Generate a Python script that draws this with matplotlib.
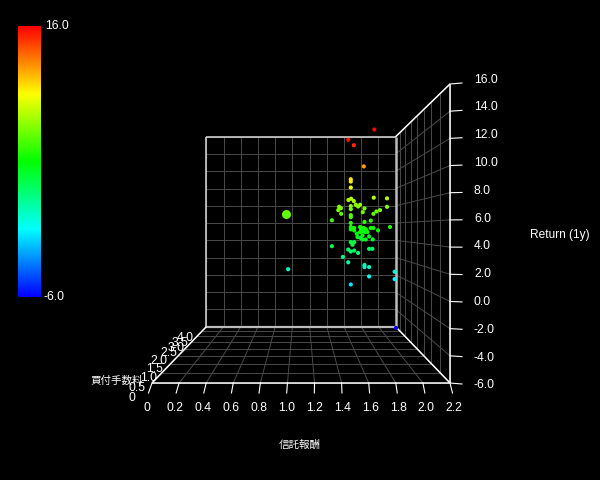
import numpy as np
import matplotlib
matplotlib.use("Agg")
import matplotlib.pyplot as plt
from matplotlib.colors import LinearSegmentedColormap

plt.rcParams['font.family'] = ['Liberation Sans', 'DejaVu Sans']

# fund data: trust fee, purchase fee, 1y return
fee = [1.89, 1.649, 1.714, 1.83, 1.679, 1.679, 1.679, 1.946, 2.10, 1.652, 1.683, 1.714,
       1.544, 1.533, 1.564, 1.679, 1.679, 1.737, 1.764, 1.787, 1.838, 1.818, 2.10, 2.019,
       1.977, 1.942, 1.567, 1.679, 1.679, 1.459, 1.838, 1.911, 1.679, 2.135, 1.996, 1.834,
       1.815, 1.853, 1.826, 1.679, 1.679, 1.718, 1.718, 1.787, 1.911, 1.942, 1.787, 1.872,
       1.749, 1.815, 1.892, 1.853, 1.815, 1.757, 1.795, 1.934, 1.679, 1.718, 1.699, 1.459,
       1.649, 1.679, 1.718, 1.764, 1.892, 1.93, 1.587, 1.649, 1.838, 1.838, 1.892, 1.892,
       1.679, 2.189, 2.189, 0.95, 2.19,
       1.82, 1.84, 1.83, 1.85, 1.80, 1.86, 1.81]
ret = [16.0, 15.65, 15.02, 12.56, 11.08, 10.81, 10.11, 8.94, 8.86, 8.67, 8.82, 8.55,
       7.88, 7.5, 7.73, 7.96, 7.61, 8.12, 7.92, 8.12, 7.69, 7.26, 7.88, 7.5,
       7.34, 7.07, 7.07, 6.91, 6.68, 6.32, 6.13, 6.28, 6.01, 5.54, 5.15, 5.15,
       5.35, 4.96, 5.43, 5.54, 5.27, 5.43, 5.15, 5.54, 5.43, 5.43, 4.96, 4.96,
       4.76, 4.57, 4.45, 4.1, 4.1, 4.37, 4.26, 4.1, 3.79, 3.79, 3.48, 3.32,
       2.93, 2.7, 2.81, 2.54, 3.01, 3.01, 2.07, 1.45, 1.14, 0.9, 0.9, -0.19,
       -1.12, 0.36, -0.5, 0.65, -6.0,
       5.3, 5.0, 5.4, 5.3, 5.2, 5.15, 5.05]
buy = [3.2] + [4.0] * 75 + [3.85] + [4.0] * 7

# the one big point
big_fee = [0.926]
big_buy = [4.0]
big_ret = [7.06]

fee_ticks = [0, 0.2, 0.4, 0.6, 0.8, 1.0, 1.2, 1.4, 1.6, 1.8, 2.0, 2.2]
buy_ticks = [0, 0.5, 1.0, 1.5, 2.0, 2.5, 3.0, 3.5, 4.0]
ret_ticks = [-6, -4, -2, 0, 2, 4, 6, 8, 10, 12, 14, 16]

# where the purchase fee labels sit, they overlap in the original too
buy_lab_x = [132, 137, 149, 155, 159, 169, 176, 180, 185]
buy_lab_y = [398, 388, 378, 369, 361, 353, 348, 343, 338]


# perspective, result in pixels of the figure
def proj(x, y, z):
    s = 1 / (1 + 0.575 * np.asarray(y, float) / 4)
    px = 301 + (np.asarray(x, float) - 1.1) / 1.1 * 149 * s
    py = 229.5 + (154.5 - (np.asarray(z, float) + 6) * 299 / 22) * s
    return px, py


def line3(ax, a, b, color, lw):
    p = proj(*a)
    q = proj(*b)
    ax.plot([p[0], q[0]], [p[1], q[1]], color=color, lw=lw, solid_capstyle='butt', zorder=2)


rainbow = LinearSegmentedColormap.from_list(
    'r', ['#0000ff', '#00ffff', '#00ff00', '#ffff00', '#ff0000'])

fig = plt.figure(figsize=(6, 4.81), dpi=100, facecolor='black')
ax = fig.add_axes([0, 0, 1, 1])
ax.set_xlim(0, 600)
ax.set_ylim(481, 0)
ax.axis('off')

gc = '#4a4a4a'
for x in fee_ticks:
    line3(ax, (x, 4, -6), (x, 4, 16), gc, 0.7)
    line3(ax, (x, 0, -6), (x, 4, -6), gc, 0.7)
for z in ret_ticks:
    line3(ax, (0, 4, z), (2.2, 4, z), gc, 0.7)
    line3(ax, (2.2, 0, z), (2.2, 4, z), gc, 0.7)
for y in buy_ticks:
    line3(ax, (0, y, -6), (2.2, y, -6), gc, 0.7)
    line3(ax, (2.2, y, -6), (2.2, y, 16), gc, 0.7)

# box outline
fr = 'white'
line3(ax, (0, 4, 16), (2.2, 4, 16), '#dddddd', 1.1)
line3(ax, (0, 4, -6), (0, 4, 16), '#dddddd', 1.1)
line3(ax, (0, 4, -6), (2.2, 4, -6), '#bbbbbb', 1.6)
line3(ax, (2.2, 4, -6), (2.2, 4, 16), '#bbbbbb', 1.8)
line3(ax, (0, 0, -6), (2.2, 0, -6), fr, 1.1)
line3(ax, (0, 0, -6), (0, 4, -6), fr, 1.1)
line3(ax, (2.2, 0, -6), (2.2, 4, -6), fr, 1.1)
line3(ax, (2.2, 0, -6), (2.2, 0, 16), fr, 1.1)
line3(ax, (2.2, 0, 16), (2.2, 4, 16), fr, 1.1)

# ticks and their labels
for i, x in enumerate(fee_ticks):
    px, py = proj(x, 0, -6)
    ax.plot([px, px + (px - 301) / 149 * 3 - 0.5], [py, py + 10], color='white', lw=0.8, zorder=2)
    lab = '0' if x == 0 else f'{x:.1f}'
    ax.text(147.3 + i * 27.9, 408, lab, color='white', fontsize=8.8, ha='center', va='center')
for z in ret_ticks:
    px, py = proj(2.2, 0, z)
    ax.plot([px, px + 12], [py, py + (py - 234) / 150], color='white', lw=0.8, zorder=2)
    ax.text(474, 385.5 - (z + 6) * 13.9, f'{z:.1f}', color='white', fontsize=8.8, ha='left', va='center')
for y, lx, ly in zip(buy_ticks, buy_lab_x, buy_lab_y):
    lab = '0' if y == 0 else f'{y:.1f}'
    ax.text(lx, ly, lab, color='white', fontsize=8.8, ha='center', va='center', zorder=3)

ax.text(559.5, 235, 'Return (1y)', color='white', fontsize=8.6, ha='center', va='center')
ax.text(300, 445, '信託報酬', color='white', fontsize=7.6, ha='center', va='center',
        family=['Noto Sans CJK JP', 'DejaVu Sans'])
ax.text(117, 381, '買付手数料', color='white', fontsize=7.6, ha='center', va='center', zorder=4,
        family=['Noto Sans CJK JP', 'DejaVu Sans'])

# points
px, py = proj(fee, buy, ret)
ax.scatter(px, py, c=ret, cmap=rainbow, vmin=-6, vmax=16, s=9, marker='o', linewidths=0, zorder=5)
px, py = proj(big_fee, big_buy, big_ret)
ax.scatter(px, py, c=big_ret, cmap=rainbow, vmin=-6, vmax=16, s=42, linewidths=0, zorder=5)

# colour bar
grad = np.linspace(1, 0, 256).reshape(-1, 1)
ax.imshow(grad, cmap=rainbow, extent=[18, 41, 298, 27], aspect='auto', zorder=2)
ax.set_xlim(0, 600)
ax.set_ylim(481, 0)
ax.text(45, 26, '16.0', color='white', fontsize=8.8, ha='left', va='center')
ax.text(44, 297, '-6.0', color='white', fontsize=8.8, ha='left', va='center')

fig.savefig('out.png', dpi=100, facecolor='black')
